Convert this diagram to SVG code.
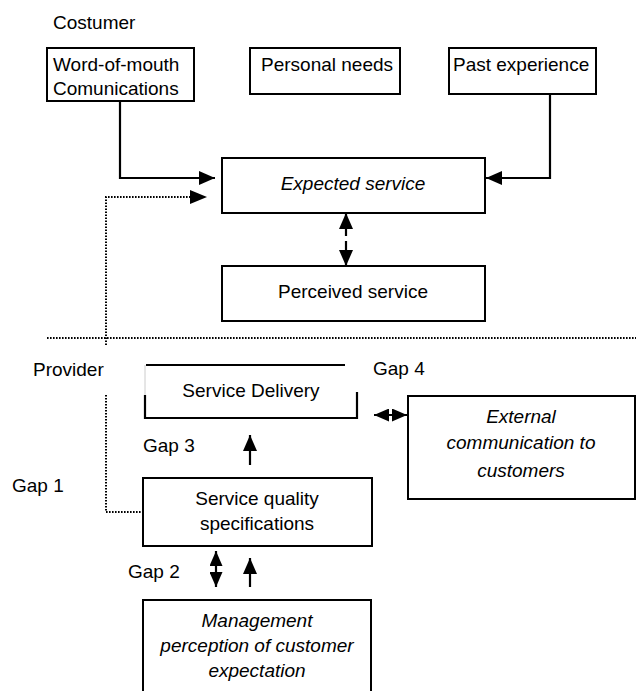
<svg xmlns="http://www.w3.org/2000/svg" width="636" height="691" viewBox="0 0 636 691">
<style>
text{font-family:"Liberation Sans",Arial,sans-serif;font-size:19px;fill:#000}
.it{font-style:italic}
.c{text-anchor:middle}
.box{fill:#fff;stroke:#000;stroke-width:2}
.ln{fill:none;stroke:#000;stroke-width:2.2}
.dot{fill:none;stroke:#000;stroke-width:2;stroke-dasharray:1.6 1.4}
</style>
<defs>
<marker id="ah" viewBox="0 0 16 14" refX="16" refY="7" markerWidth="16" markerHeight="14" markerUnits="userSpaceOnUse" orient="auto-start-reverse">
<path d="M0,0 L16,7 L0,14 Z" fill="#000"/>
</marker>
<marker id="ahs" viewBox="0 0 15 13" refX="15" refY="6.5" markerWidth="15" markerHeight="13" markerUnits="userSpaceOnUse" orient="auto-start-reverse">
<path d="M0,0 L15,6.5 L0,13 Z" fill="#000"/>
</marker>
</defs>
<text x="53" y="29">Costumer</text>
<text x="33" y="376">Provider</text>
<text x="373" y="375">Gap 4</text>
<text x="143" y="452">Gap 3</text>
<text x="12" y="492">Gap 1</text>
<text x="128" y="578">Gap 2</text>
<g id="wom"><rect class="box" x="47" y="48" width="147" height="53"/><text x="53" y="71">Word-of-mouth</text><text x="53" y="95">Comunications</text></g>
<g id="personal"><rect class="box" x="250" y="48" width="150" height="46"/><text x="261" y="71">Personal needs</text></g>
<g id="past"><rect class="box" x="449" y="48" width="147" height="46"/><text x="453" y="71">Past experience</text></g>
<g id="expected"><rect class="box" x="222" y="158" width="263" height="55"/><text class="it c" x="353" y="190">Expected service</text></g>
<g id="perceived"><rect class="box" x="222" y="266" width="263" height="55"/><text class="c" x="353" y="298">Perceived service</text></g>
<g id="delivery">
<line x1="145" y1="365" x2="145" y2="395" stroke="#ccc" stroke-width="1"/>
<path class="ln" d="M146,365 H345 M145,395 V418 H357 V392"/>
<text class="c" x="251" y="397">Service Delivery</text></g>
<g id="external"><rect class="box" x="408" y="396" width="227" height="103"/><text class="it c" x="521" y="423">External</text><text class="it c" x="521" y="449">communication to</text><text class="it c" x="521" y="477">customers</text></g>
<g id="specs"><rect class="box" x="143" y="478" width="229" height="68"/><text class="c" x="257" y="505">Service quality</text><text class="c" x="257" y="530">specifications</text></g>
<g id="management"><rect class="box" x="143" y="600" width="228" height="100"/><text class="it c" x="257" y="627">Management</text><text class="it c" x="257" y="652">perception of customer</text><text class="it c" x="257" y="677">expectation</text></g>
<g id="connectors">
<line class="dot" x1="47" y1="338" x2="636" y2="338"/>
<path class="ln" d="M120,101 V178 H215" marker-end="url(#ah)"/>
<path class="ln" d="M550,94 V178 H486" marker-end="url(#ah)"/>
<path class="dot" d="M106,345 V197 H190"/>
<path d="M190,190 L207,197 L190,204 Z" fill="#000"/>
<path class="dot" d="M106,395 V512 H143"/>
<line class="ln" x1="346" y1="236" x2="346" y2="213" marker-end="url(#ah)"/>
<line class="ln" x1="346" y1="241" x2="346" y2="266" marker-end="url(#ah)"/>
<line class="ln" x1="374" y1="415" x2="407" y2="415" marker-start="url(#ahs)" marker-end="url(#ahs)"/>
<line class="ln" x1="250" y1="465" x2="250" y2="435" marker-end="url(#ah)"/>
<line class="ln" x1="216" y1="551" x2="216" y2="587" marker-start="url(#ahs)" marker-end="url(#ahs)"/>
<line class="ln" x1="250" y1="587" x2="250" y2="558" marker-end="url(#ah)"/>
</g>
</svg>
